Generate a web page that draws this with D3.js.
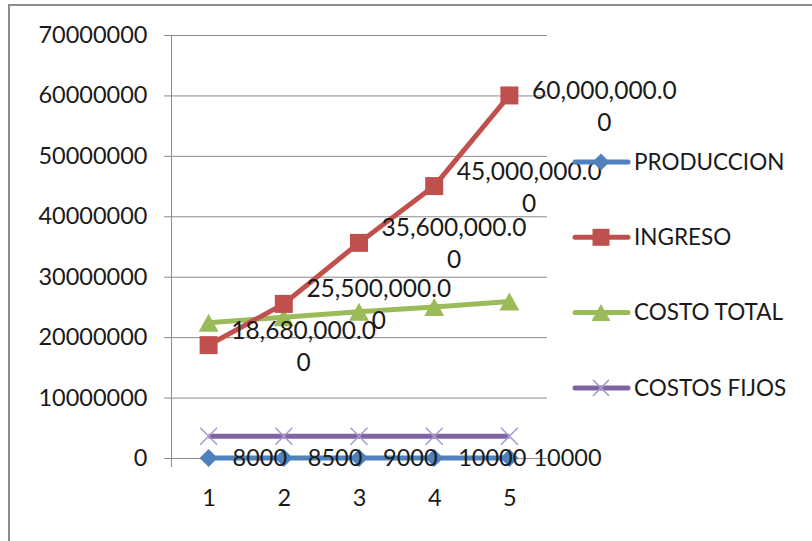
<!DOCTYPE html>
<meta charset="utf-8">
<style>
  body { margin: 0; background: #fff; }
  text { font-family: Lato, "Open Sans", sans-serif; fill: #1a1a1a; }
</style>
<body>
<script src="https://cdn.jsdelivr.net/npm/d3@7"></script>
<script>

var width = 812,
  height = 541;

// categories and series
var categories = [1, 2, 3, 4, 5];
var produccion = [8000, 8500, 9000, 10000, 10000];
var ingreso = [18680000, 25500000, 35600000, 45000000, 60000000];
var costoTotal = [22400000, 23300000, 24200000, 25000000, 25900000];
var costosFijos = [3600000, 3600000, 3600000, 3600000, 3600000];
var yTicks = [0, 10000000, 20000000, 30000000, 40000000, 50000000, 60000000, 70000000];
var seriesNames = ["PRODUCCION", "INGRESO", "COSTO TOTAL", "COSTOS FIJOS"];

var series = [
  { name: seriesNames[0], values: produccion, color: "#4f81bd", marker: "diamond", label: d3.format("d") },
  { name: seriesNames[1], values: ingreso, color: "#c0504d", marker: "square", label: d3.format(",.2f") },
  { name: seriesNames[2], values: costoTotal, color: "#9bbb59", marker: "triangle" },
  { name: seriesNames[3], values: costosFijos, color: "#8064a2", marker: "cross" }
];

var svg = d3.select("body").append("svg")
  .attr("width", width)
  .attr("height", height)

// outer chart frame
svg.append("rect")
  .attr("x", 9).attr("y", 5)
  .attr("width", 820).attr("height", 560)
  .attr("fill", "#fff")
  .attr("stroke", "#8c8c8c")
  .attr("stroke-width", 2)

var plot = { left: 171, right: 547, top: 35, bottom: 458 };

var x = d3.scalePoint()
  .domain(categories)
  .range([plot.left, plot.right])
  .padding(0.5);

var y = d3.scaleLinear()
  .domain([0, 70000000])
  .range([plot.bottom, plot.top]);

// gridlines
svg.append("g")
  .selectAll("line")
  .data(yTicks)
  .enter().append("line")
  .attr("x1", plot.left - 7)
  .attr("x2", plot.right)
  .attr("y1", d => y(d) + 0.5)
  .attr("y2", d => y(d) + 0.5)
  .attr("stroke", "#8a8a8a")
  .attr("stroke-width", 1)

// y axis
var yAxis = svg.append("g")
  .attr("transform", "translate(" + (plot.left + 0.5) + ",0)")
  .call(d3.axisLeft(y).tickValues(yTicks).tickFormat(d3.format("d")).tickSize(0).tickPadding(24))
yAxis.select(".domain").remove();
yAxis.selectAll("text").style("font-size", "23.5px").attr("fill", "#1a1a1a")

svg.append("line")
  .attr("x1", plot.left + 0.5).attr("x2", plot.left + 0.5)
  .attr("y1", plot.top).attr("y2", plot.bottom + 9)
  .attr("stroke", "#8a8a8a")

// x axis labels
var xAxis = svg.append("g")
  .attr("transform", "translate(0," + (plot.bottom + 9) + ")")
  .call(d3.axisBottom(x).tickSize(0).tickPadding(22))
xAxis.select(".domain").remove();
xAxis.selectAll("text").style("font-size", "23.5px").attr("fill", "#1a1a1a")

function markerPath(type, s) {
  var h = s / 2;
  if (type === "diamond") return "M0," + (-h) + "L" + h + ",0L0," + h + "L" + (-h) + ",0Z";
  if (type === "square") return "M" + (-h) + "," + (-h) + "h" + s + "v" + s + "h" + (-s) + "Z";
  if (type === "triangle") return "M0," + (-h) + "L" + (h + 1) + "," + h + "L" + (-h - 1) + "," + h + "Z";
  return "M" + (-h) + "," + (-h) + "L" + h + "," + h + "M" + h + "," + (-h) + "L" + (-h) + "," + h;
}

function drawMarker(g, type, color, s) {
  if (type === "cross") {
    g.append("path").attr("d", markerPath(type, s))
      .attr("fill", "none").attr("stroke", "#a99bc9").attr("stroke-width", 1.5);
  } else {
    g.append("path").attr("d", markerPath(type, s)).attr("fill", color);
  }
}

var line = d3.line()
  .x((d, i) => x(categories[i]))
  .y(d => y(d));

// draw series in reverse order so PRODUCCION sits on top at the bottom
var seriesG = svg.append("g");
series.slice().reverse().forEach(function(s) {
  var g = seriesG.append("g");
  g.append("path")
    .attr("d", line(s.values))
    .attr("fill", "none")
    .attr("stroke", s.color)
    .attr("stroke-width", 5)
    .attr("stroke-linejoin", "round")
  s.values.forEach(function(v, i) {
    var m = g.append("g").attr("transform", "translate(" + x(categories[i]) + "," + y(v) + ")");
    drawMarker(m, s.marker, s.color, s.marker === "cross" ? 17 : 18);
  });
});

// data labels
var labelG = svg.append("g");
series.forEach(function(s) {
  if (!s.label) return;
  s.values.forEach(function(v, i) {
    var txt = s.label(v);
    var px = x(categories[i]), py = y(v);
    if (s.name === "PRODUCCION") {
      labelG.append("text")
        .attr("x", px + 24).attr("y", py)
        .attr("dy", "0.35em")
        .style("font-size", "23.5px")
        .text(txt);
    } else {
      // Excel wrapped the long labels, leaving the last digit on a second line
      var last = i === s.values.length - 1 ? 10 : 0;
      var t = labelG.append("text")
        .attr("text-anchor", "middle")
        .style("font-size", "24.5px");
      t.append("tspan").attr("x", px + 95).attr("y", py - 15 + last).attr("dy", "0.35em").text(txt.slice(0, -1));
      t.append("tspan").attr("x", px + 95).attr("y", py + 17 + last).attr("dy", "0.35em").text(txt.slice(-1));
    }
  });
});

// legend
var legend = svg.append("g")
  .selectAll("g")
  .data(series)
  .enter().append("g")
  .attr("transform", (d, i) => "translate(575," + (162 + i * 75.3) + ")")

legend.append("line")
  .attr("x1", 0).attr("x2", 53)
  .attr("stroke", d => d.color)
  .attr("stroke-width", 5)
  .attr("stroke-linecap", "round")

legend.each(function(d) {
  var m = d3.select(this).append("g").attr("transform", "translate(26,0)");
  drawMarker(m, d.marker, d.color, d.marker === "cross" ? 16 : 17);
});

legend.append("text")
  .attr("x", 59)
  .attr("dy", "0.35em")
  .style("font-size", "22.5px")
  .text(d => d.name)

</script>
</body>
</html>
